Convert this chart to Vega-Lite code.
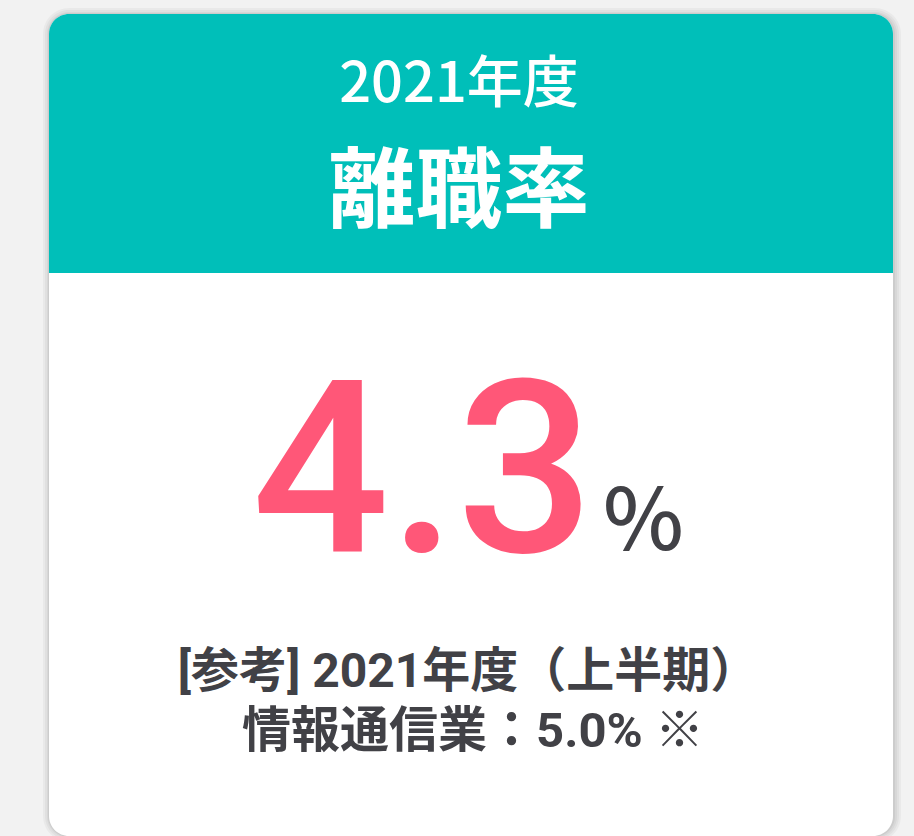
{
  "$schema": "https://vega.github.io/schema/vega-lite/v6.json",
  "width": 914,
  "height": 836,
  "autosize": "none",
  "padding": 0,
  "background": "#f2f2f2",
  "config": {"view": {"stroke": null}},
  "data": {"values": [
    {"fiscal_year": "2021年度", "metric": "離職率", "rate": 4.3, "unit": "%", "ref_title": "[参考] 2021年度（上半期）", "ref_value": "情報通信業：5.0% ※"}
  ]},
  "layer": [
    {"mark": {"type": "rect", "x": 43, "x2": 901, "y": 8, "y2": 842, "cornerRadius": 26, "fill": "#000", "opacity": 0.035}, "encoding": {}},
    {"mark": {"type": "rect", "x": 45, "x2": 899, "y": 10, "y2": 840, "cornerRadius": 24, "fill": "#000", "opacity": 0.035}, "encoding": {}},
    {"mark": {"type": "rect", "x": 47, "x2": 897, "y": 12, "y2": 838, "cornerRadius": 22, "fill": "#000", "opacity": 0.04}, "encoding": {}},
    {"mark": {"type": "rect", "x": 48, "x2": 895, "y": 13, "y2": 837, "cornerRadius": 21, "fill": "#000", "opacity": 0.05}, "encoding": {}},
    {"mark": {"type": "rect", "x": 49, "x2": 893, "y": 14, "y2": 836, "cornerRadius": 20, "fill": "#ffffff"}, "encoding": {}},
    {"mark": {"type": "rect", "x": 49, "x2": 893, "y": 14, "y2": 273, "cornerRadiusTopLeft": 20, "cornerRadiusTopRight": 20, "fill": "#00BFB9"}, "encoding": {}},
    {"mark": {"type": "text", "x": 459, "y": 102, "align": "center", "baseline": "alphabetic", "font": "Noto Sans CJK JP", "fontSize": 56, "fontWeight": 500, "fill": "#ffffff"},
     "encoding": {"text": {"field": "fiscal_year"}}},
    {"mark": {"type": "text", "x": 459, "y": 221, "align": "center", "baseline": "alphabetic", "font": "Noto Sans CJK JP", "fontSize": 87, "fontWeight": "bold", "fill": "#ffffff"},
     "encoding": {"text": {"field": "metric"}}},
    {"mark": {"type": "text", "x": 594, "y": 552, "align": "right", "baseline": "alphabetic", "font": "Roboto", "fontSize": 242, "fontWeight": 500, "fill": "#FF5778"},
     "encoding": {"text": {"field": "rate", "type": "quantitative", "format": ".1f"}}},
    {"mark": {"type": "text", "x": 603, "y": 550, "align": "left", "baseline": "alphabetic", "font": "Noto Sans CJK JP", "fontSize": 86, "fontWeight": 500, "fill": "#414146"},
     "encoding": {"text": {"field": "unit"}}},
    {"mark": {"type": "text", "x": 468, "y": 687, "align": "center", "baseline": "alphabetic", "font": "Roboto, Noto Sans CJK JP", "fontSize": 48, "fontWeight": "bold", "fill": "#414146"},
     "encoding": {"text": {"field": "ref_title"}}},
    {"mark": {"type": "text", "x": 473, "y": 747, "align": "center", "baseline": "alphabetic", "font": "Roboto, Noto Sans CJK JP", "fontSize": 49, "fontWeight": "bold", "fill": "#414146"},
     "encoding": {"text": {"field": "ref_value"}}}
  ]
}
